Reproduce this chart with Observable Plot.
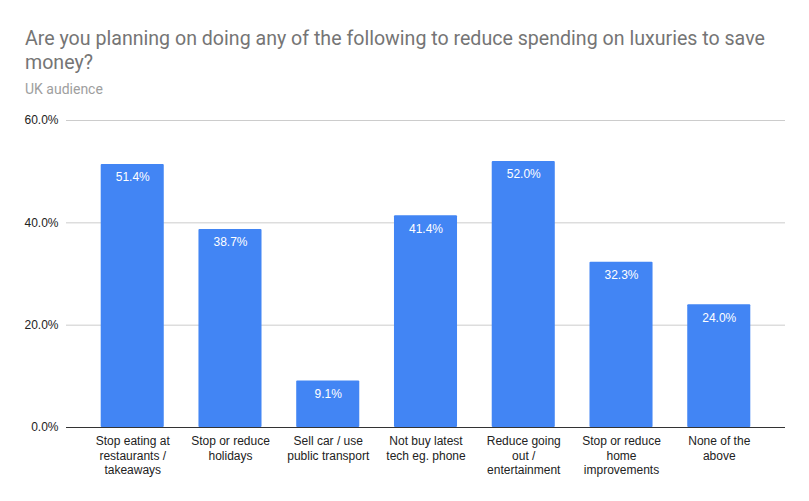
<!DOCTYPE html>
<html><head><meta charset="utf-8">
<script src="https://cdn.jsdelivr.net/npm/d3@7"></script>
<script src="https://cdn.jsdelivr.net/npm/@observablehq/plot@0.6"></script>
<style>
body{margin:0;background:#fff;width:809px;height:501px;overflow:hidden;}
#head{height:105px;box-sizing:border-box;padding:27px 0 0 25px;font-family:Roboto,"Liberation Sans",sans-serif;}
#title{font-size:19.6px;line-height:24px;color:#757575;}
#sub{font-size:14px;line-height:16px;color:#9e9e9e;margin-top:6px;}
</style></head><body>
<div id="head"><div id="title">Are you planning on doing any of the following to reduce spending on luxuries to save<br>money?</div><div id="sub">UK audience</div></div>
<div id="chart"></div>
<script>
const categories = ["Stop eating at\nrestaurants /\ntakeaways","Stop or reduce\nholidays","Sell car / use\npublic transport","Not buy latest\ntech eg. phone","Reduce going\nout /\nentertainment","Stop or reduce\nhome\nimprovements","None of the\nabove"];
const values = [51.4, 38.7, 9.1, 41.4, 52.0, 32.3, 24.0];
const yTicks = [0, 20, 40, 60];
const data = categories.map((c, i) => ({c, v: values[i]}));
const fmt = d => d.toFixed(1) + "%";
const chart = Plot.plot({
  width: 809, height: 396,
  marginLeft: 66, marginRight: 24, marginTop: 15, marginBottom: 74,
  style: {fontFamily: "'Liberation Sans', Arial, sans-serif", fontSize: "12px", color: "#222", background: "#fff"},
  x: {domain: categories, padding: 0.355, round: false, label: null},
  y: {domain: [0, 60], label: null},
  marks: [
    Plot.ruleY(yTicks.slice(1), {stroke: "#cccccc", strokeWidth: 1}),
    Plot.barY(data, {x: "c", y: "v", fill: "#4285f4", rx: 1}),
    Plot.ruleY([0], {stroke: "#333", strokeWidth: 1}),
    Plot.text(data, {x: "c", y: "v", text: d => fmt(d.v), dy: 13, fill: "#fff", fontSize: 12}),
    Plot.axisY({ticks: yTicks, tickFormat: fmt, tickSize: 0, tickPadding: 8, label: null, fontSize: 12}),
    Plot.axisX({tickSize: 0, tickPadding: 8, label: null, lineHeight: 1.17, fontSize: 12})
  ]
});
document.getElementById("chart").appendChild(chart);
</script>
</body></html>
